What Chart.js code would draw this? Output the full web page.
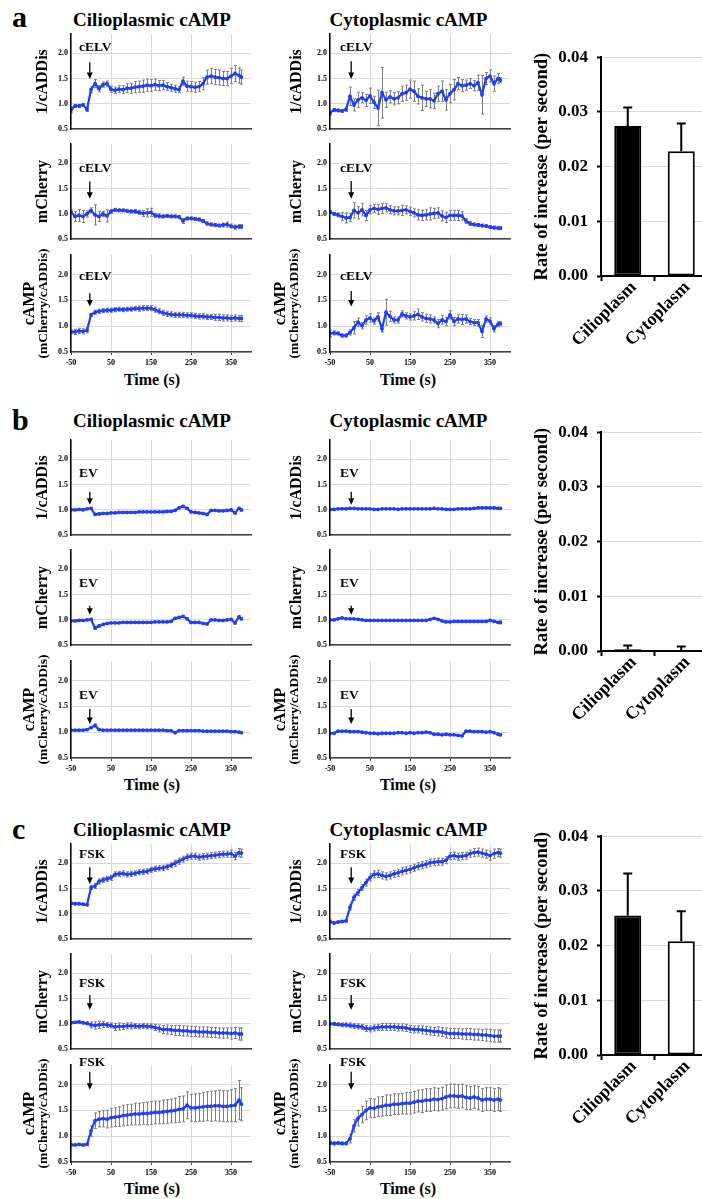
<!DOCTYPE html>
<html><head><meta charset="utf-8">
<script src="https://cdn.jsdelivr.net/npm/chart.js@4.4.1/dist/chart.umd.min.js"></script>
<style>
html,body{margin:0;padding:0;background:#fff;}
#fig{position:relative;width:702px;height:1199px;overflow:hidden;background:#fff;}
#fig canvas{position:absolute;}
.t{position:absolute;font-family:"Liberation Serif","Times New Roman",Times,serif;font-weight:bold;color:#000;line-height:1;white-space:nowrap;}
</style></head>
<body><div id="fig"></div>
<script>
// ---------- DATA ----------
const times = [-50,-40,-30,-20,-10,0,10,20,30,40,
  50,60,70,80,90,100,110,120,130,140,
  150,160,170,180,190,200,210,220,230,240,
  250,260,270,280,290,300,310,320,330,340,
  350,360,370,376];
const xTicks = [-50,50,150,250,350];
const yTicks = [0.5,1.0,1.5,2.0];
const rateTicks = [0,0.01,0.02,0.03,0.04];
const barCategories = ['Cilioplasm','Cytoplasm'];

// panel a (cELV) - cilioplasmic
const aCilCadd = [0.88,0.96,0.96,0.98,0.89,1.28,1.40,1.30,1.38,1.40,
  1.29,1.27,1.29,1.28,1.31,1.31,1.33,1.34,1.35,1.37,
  1.36,1.38,1.36,1.37,1.34,1.32,1.30,1.28,1.45,1.35,
  1.34,1.33,1.34,1.40,1.53,1.55,1.53,1.52,1.50,1.50,
  1.55,1.60,1.56,1.53];
const aCilCaddErr = [0.06,0.03,0.03,0.03,0.04,0.06,0.08,0.06,0.05,0.05,
  0.06,0.06,0.07,0.08,0.09,0.10,0.11,0.11,0.12,0.12,
  0.12,0.11,0.10,0.09,0.08,0.07,0.07,0.06,0.08,0.10,
  0.10,0.10,0.10,0.12,0.14,0.15,0.15,0.15,0.14,0.14,
  0.15,0.16,0.15,0.14];
const aCilMch = [1.04,0.95,0.97,0.95,1.00,1.07,0.98,0.95,1.00,0.96,
  1.05,1.08,1.07,1.07,1.06,1.05,1.05,1.03,1.01,1.02,
  1.03,0.97,0.96,0.95,0.96,0.95,0.95,0.94,0.86,0.91,
  0.91,0.90,0.89,0.86,0.81,0.79,0.78,0.77,0.78,0.79,
  0.76,0.74,0.75,0.75];
const aCilMchErr = [0.05,0.10,0.12,0.12,0.06,0.05,0.20,0.10,0.05,0.12,
  0.04,0.03,0.03,0.03,0.03,0.03,0.04,0.04,0.06,0.08,
  0.08,0.04,0.04,0.03,0.03,0.03,0.03,0.03,0.05,0.03,
  0.03,0.03,0.03,0.03,0.03,0.03,0.03,0.03,0.04,0.05,
  0.04,0.04,0.04,0.04];
const aCilCamp = [0.89,0.89,0.91,0.90,0.92,1.22,1.27,1.29,1.30,1.31,
  1.31,1.32,1.33,1.32,1.33,1.33,1.34,1.34,1.35,1.35,
  1.35,1.32,1.29,1.26,1.24,1.23,1.22,1.22,1.22,1.21,
  1.21,1.20,1.19,1.19,1.18,1.18,1.17,1.17,1.16,1.16,
  1.15,1.16,1.15,1.15];
const aCilCampErr = [0.04,0.05,0.05,0.05,0.05,0.03,0.04,0.04,0.04,0.04,
  0.04,0.04,0.04,0.04,0.04,0.04,0.04,0.05,0.05,0.05,
  0.05,0.05,0.05,0.05,0.05,0.05,0.05,0.05,0.05,0.05,
  0.05,0.05,0.05,0.05,0.05,0.05,0.06,0.06,0.06,0.06,
  0.06,0.06,0.06,0.06];
// panel a (cELV) - cytoplasmic
const aCytCadd = [0.82,0.88,0.87,0.86,0.89,1.15,0.98,1.08,1.12,1.07,
  1.16,1.03,0.92,1.22,1.08,1.14,1.10,1.12,1.20,1.22,
  1.29,1.25,1.15,1.12,1.10,1.10,1.06,1.20,1.25,1.08,
  1.20,1.28,1.40,1.36,1.37,1.40,1.36,1.42,1.18,1.50,
  1.55,1.40,1.50,1.47];
const aCytCaddErr = [0.04,0.03,0.03,0.03,0.04,0.18,0.12,0.15,0.10,0.12,
  0.15,0.12,0.35,0.50,0.15,0.12,0.12,0.12,0.15,0.15,
  0.18,0.20,0.15,0.25,0.15,0.18,0.15,0.15,0.20,0.20,
  0.18,0.20,0.12,0.12,0.10,0.10,0.10,0.15,0.38,0.12,
  0.12,0.15,0.10,0.05];
const aCytMch = [1.04,1.00,0.98,0.95,0.92,0.93,1.07,1.02,1.08,0.97,
  1.08,1.11,1.09,1.11,1.12,1.08,1.06,1.06,1.07,1.08,
  1.05,1.02,0.98,0.97,0.98,1.00,1.01,1.02,0.96,0.93,
  0.97,0.97,0.97,0.96,0.86,0.81,0.79,0.78,0.77,0.76,
  0.74,0.73,0.72,0.72];
const aCytMchErr = [0.03,0.03,0.04,0.08,0.10,0.08,0.15,0.12,0.12,0.10,
  0.08,0.08,0.10,0.10,0.08,0.08,0.08,0.08,0.10,0.08,
  0.08,0.08,0.10,0.10,0.10,0.12,0.10,0.10,0.10,0.10,
  0.10,0.10,0.10,0.08,0.05,0.04,0.03,0.03,0.03,0.03,
  0.03,0.03,0.03,0.03];
const aCytCamp = [0.86,0.87,0.86,0.82,0.82,0.88,0.97,1.08,1.01,1.12,
  1.16,1.10,1.18,0.95,1.27,1.19,1.12,1.12,1.24,1.20,
  1.18,1.20,1.23,1.18,1.15,1.14,1.12,1.05,1.12,1.09,
  1.22,1.09,1.14,1.13,1.14,1.09,1.07,1.07,0.90,1.14,
  1.10,0.95,1.04,1.05];
const aCytCampErr = [0.06,0.04,0.03,0.03,0.03,0.05,0.12,0.08,0.06,0.08,
  0.08,0.06,0.08,0.06,0.25,0.10,0.06,0.06,0.06,0.06,
  0.06,0.08,0.10,0.08,0.08,0.08,0.06,0.08,0.08,0.08,
  0.08,0.08,0.08,0.10,0.08,0.06,0.06,0.06,0.12,0.06,
  0.06,0.06,0.05,0.04];

// panel b (EV) - cilioplasmic
const bCilCadd = [1.00,1.00,1.01,1.00,1.02,1.03,0.91,0.92,0.93,0.93,
  0.94,0.94,0.95,0.95,0.95,0.95,0.95,0.96,0.96,0.96,
  0.96,0.96,0.96,0.96,0.97,0.97,0.99,1.04,1.07,1.03,
  0.96,0.95,0.94,0.93,0.91,0.99,0.99,0.98,0.98,0.99,
  1.00,0.94,1.03,1.00];
const bCilCaddErr = [0.01,0.01,0.01,0.01,0.01,0.02,0.02,0.02,0.01,0.01,
  0.01,0.01,0.01,0.01,0.01,0.01,0.01,0.01,0.01,0.01,
  0.01,0.01,0.01,0.01,0.01,0.01,0.02,0.02,0.02,0.02,
  0.01,0.01,0.01,0.01,0.02,0.01,0.01,0.01,0.01,0.01,
  0.02,0.02,0.02,0.02];
const bCilMch = [0.98,0.98,0.99,0.99,1.00,1.01,0.84,0.88,0.91,0.93,
  0.94,0.94,0.94,0.95,0.95,0.95,0.95,0.95,0.95,0.95,
  0.95,0.96,0.96,0.96,0.96,0.97,1.03,1.05,1.07,1.02,
  0.95,0.95,0.95,0.93,0.92,1.00,1.00,0.99,0.99,1.00,
  1.01,0.94,1.06,1.02];
const bCilMchErr = [0.01,0.01,0.01,0.01,0.01,0.02,0.03,0.02,0.02,0.01,
  0.01,0.01,0.01,0.01,0.01,0.01,0.01,0.01,0.01,0.01,
  0.01,0.01,0.01,0.01,0.01,0.01,0.02,0.02,0.02,0.02,
  0.01,0.01,0.01,0.01,0.02,0.01,0.01,0.01,0.01,0.01,
  0.02,0.02,0.02,0.02];
const bCilCamp = [1.04,1.04,1.04,1.04,1.05,1.09,1.13,1.05,1.04,1.04,
  1.04,1.04,1.04,1.04,1.04,1.04,1.04,1.04,1.04,1.04,
  1.04,1.04,1.04,1.04,1.03,1.03,0.99,1.03,1.03,1.03,
  1.03,1.03,1.03,1.02,1.02,1.02,1.02,1.02,1.02,1.02,
  1.01,1.01,1.00,0.99];
const bCilCampErr = [0.01,0.01,0.01,0.01,0.01,0.02,0.03,0.01,0.01,0.01,
  0.01,0.01,0.01,0.01,0.01,0.01,0.01,0.01,0.01,0.01,
  0.01,0.01,0.01,0.01,0.01,0.01,0.02,0.01,0.01,0.01,
  0.01,0.01,0.01,0.01,0.01,0.01,0.01,0.01,0.01,0.01,
  0.01,0.01,0.01,0.01];
// panel b (EV) - cytoplasmic
const bCytCadd = [1.01,1.01,1.02,1.02,1.02,1.03,1.03,1.02,1.02,1.02,
  1.02,1.01,1.01,1.02,1.02,1.02,1.02,1.01,1.02,1.02,
  1.02,1.02,1.02,1.02,1.02,1.02,1.03,1.02,1.02,1.01,
  1.01,1.01,1.02,1.02,1.02,1.02,1.03,1.04,1.04,1.04,
  1.04,1.04,1.03,1.03];
const bCytCaddErr = [0.01,0.01,0.01,0.01,0.01,0.01,0.01,0.01,0.01,0.01,
  0.01,0.01,0.01,0.01,0.01,0.01,0.01,0.01,0.01,0.01,
  0.01,0.01,0.01,0.01,0.01,0.01,0.01,0.01,0.01,0.01,
  0.01,0.01,0.01,0.01,0.01,0.01,0.02,0.02,0.02,0.02,
  0.02,0.02,0.02,0.02];
const bCytMch = [1.00,1.00,1.02,1.04,1.02,1.02,1.02,1.01,1.00,0.99,
  0.99,0.99,0.99,0.99,0.99,0.99,0.99,0.99,0.99,0.99,
  0.99,0.99,0.99,0.99,0.99,1.01,1.03,1.01,0.98,0.96,
  0.96,0.97,0.97,0.97,0.97,0.97,0.97,0.97,0.97,0.97,
  0.99,0.97,0.95,0.95];
const bCytMchErr = [0.01,0.01,0.01,0.01,0.01,0.01,0.01,0.01,0.01,0.01,
  0.01,0.01,0.01,0.01,0.01,0.01,0.01,0.01,0.01,0.01,
  0.01,0.01,0.01,0.01,0.01,0.01,0.01,0.01,0.01,0.01,
  0.01,0.01,0.01,0.01,0.01,0.01,0.01,0.01,0.01,0.01,
  0.02,0.02,0.02,0.03];
const bCytCamp = [0.98,0.98,1.02,1.02,1.02,1.01,1.01,1.01,1.00,0.99,
  0.98,0.98,0.97,0.98,0.98,0.98,0.98,0.99,0.99,0.98,
  0.99,0.98,0.99,0.99,1.00,0.99,0.96,0.96,0.95,0.96,
  0.95,0.95,0.94,0.93,1.02,1.02,1.01,1.01,1.01,1.00,
  1.01,0.99,0.96,0.95];
const bCytCampErr = [0.01,0.01,0.01,0.01,0.01,0.01,0.01,0.01,0.01,0.01,
  0.01,0.01,0.01,0.01,0.01,0.01,0.01,0.01,0.01,0.01,
  0.01,0.01,0.01,0.01,0.01,0.01,0.01,0.01,0.01,0.01,
  0.01,0.01,0.01,0.01,0.01,0.01,0.01,0.01,0.01,0.01,
  0.01,0.01,0.02,0.02];

// panel c (FSK) - cilioplasmic
const cCilCadd = [1.21,1.20,1.20,1.19,1.18,1.52,1.55,1.64,1.67,1.69,
  1.71,1.78,1.79,1.80,1.78,1.79,1.80,1.82,1.83,1.84,
  1.87,1.89,1.90,1.91,1.93,1.96,2.00,2.04,2.08,2.12,
  2.14,2.14,2.12,2.13,2.14,2.15,2.16,2.17,2.18,2.18,
  2.19,2.14,2.21,2.20];
const cCilCaddErr = [0.02,0.02,0.02,0.02,0.02,0.04,0.05,0.05,0.05,0.05,
  0.05,0.05,0.05,0.05,0.05,0.05,0.05,0.05,0.05,0.05,
  0.05,0.05,0.05,0.05,0.05,0.05,0.06,0.06,0.06,0.06,
  0.06,0.06,0.06,0.06,0.06,0.06,0.06,0.06,0.06,0.06,
  0.07,0.07,0.08,0.08];
const cCilMch = [1.02,1.03,1.04,1.02,1.01,0.98,0.97,0.98,0.99,0.98,
  0.97,0.94,0.95,0.95,0.96,0.96,0.96,0.95,0.96,0.95,
  0.95,0.93,0.91,0.89,0.89,0.88,0.87,0.87,0.86,0.86,
  0.85,0.85,0.84,0.84,0.84,0.83,0.83,0.82,0.82,0.82,
  0.81,0.82,0.80,0.80];
const cCilMchErr = [0.02,0.02,0.02,0.02,0.03,0.06,0.07,0.07,0.06,0.05,
  0.05,0.07,0.07,0.06,0.06,0.06,0.05,0.05,0.05,0.05,
  0.05,0.06,0.07,0.08,0.09,0.09,0.10,0.10,0.10,0.10,
  0.10,0.10,0.10,0.10,0.10,0.10,0.10,0.10,0.10,0.10,
  0.11,0.11,0.12,0.12];
const cCilCamp = [0.83,0.83,0.84,0.83,0.84,1.10,1.30,1.33,1.34,1.33,
  1.36,1.37,1.38,1.40,1.41,1.42,1.43,1.43,1.44,1.44,
  1.45,1.46,1.46,1.47,1.48,1.49,1.50,1.52,1.53,1.60,
  1.55,1.55,1.56,1.57,1.58,1.58,1.59,1.59,1.58,1.58,
  1.59,1.60,1.70,1.62];
const cCilCampErr = [0.02,0.02,0.02,0.02,0.02,0.10,0.15,0.15,0.16,0.17,
  0.18,0.18,0.19,0.20,0.20,0.20,0.21,0.21,0.21,0.22,
  0.22,0.22,0.22,0.23,0.23,0.23,0.24,0.25,0.25,0.26,
  0.26,0.27,0.27,0.28,0.28,0.29,0.29,0.30,0.30,0.30,
  0.31,0.32,0.38,0.32];
// panel c (FSK) - cytoplasmic
const cCytCadd = [0.85,0.82,0.84,0.85,0.86,1.13,1.33,1.42,1.52,1.62,
  1.72,1.78,1.79,1.76,1.74,1.76,1.79,1.81,1.84,1.86,
  1.88,1.91,1.94,1.96,1.98,2.01,2.02,2.03,2.03,2.06,
  2.14,2.15,2.13,2.14,2.15,2.19,2.21,2.22,2.20,2.18,
  2.15,2.19,2.21,2.20];
const cCytCaddErr = [0.03,0.02,0.02,0.02,0.02,0.05,0.06,0.06,0.06,0.07,
  0.07,0.07,0.07,0.07,0.07,0.07,0.07,0.07,0.07,0.07,
  0.07,0.07,0.07,0.07,0.07,0.07,0.07,0.07,0.07,0.07,
  0.07,0.07,0.07,0.07,0.07,0.07,0.08,0.08,0.08,0.08,
  0.09,0.09,0.08,0.08];
const cCytMch = [1.00,1.00,0.99,0.98,0.98,0.97,0.96,0.95,0.94,0.91,
  0.90,0.92,0.93,0.94,0.94,0.94,0.94,0.93,0.93,0.92,
  0.90,0.89,0.89,0.88,0.87,0.86,0.85,0.85,0.84,0.82,
  0.81,0.81,0.81,0.80,0.80,0.80,0.79,0.79,0.78,0.78,
  0.77,0.76,0.76,0.76];
const cCytMchErr = [0.02,0.03,0.03,0.04,0.04,0.05,0.05,0.05,0.05,0.06,
  0.06,0.06,0.06,0.07,0.07,0.07,0.07,0.07,0.07,0.07,
  0.07,0.07,0.07,0.08,0.08,0.08,0.08,0.09,0.09,0.10,
  0.10,0.10,0.10,0.10,0.11,0.11,0.11,0.11,0.11,0.12,
  0.12,0.12,0.12,0.12];
const cCytCamp = [0.87,0.86,0.87,0.86,0.86,0.95,1.20,1.35,1.42,1.50,
  1.55,1.54,1.57,1.58,1.60,1.60,1.62,1.62,1.63,1.64,
  1.64,1.66,1.68,1.68,1.70,1.70,1.72,1.71,1.73,1.76,
  1.78,1.78,1.77,1.78,1.75,1.74,1.76,1.74,1.70,1.72,
  1.72,1.70,1.72,1.70];
const cCytCampErr = [0.03,0.03,0.03,0.03,0.03,0.08,0.12,0.15,0.16,0.18,
  0.18,0.18,0.19,0.19,0.20,0.20,0.20,0.20,0.20,0.21,
  0.21,0.21,0.21,0.22,0.22,0.22,0.22,0.22,0.22,0.23,
  0.23,0.23,0.23,0.23,0.23,0.22,0.22,0.22,0.22,0.22,
  0.22,0.22,0.22,0.22];

// rate of increase (bar charts)
const rateA = [0.0274, 0.0228];
const rateAErr = [0.0034, 0.0051];
const rateB = [0.0003, 0.0001];
const rateBErr = [0.0007, 0.0007];
const rateC = [0.0255, 0.0208];
const rateCErr = [0.0077, 0.0055];

// ---------- LAYOUT ----------
const SERIF = '"Liberation Serif", "Times New Roman", Times, serif';
const BLUE = '#1f3dff';
const PANEL_TOP = [0, 406, 810];
const ROW_TOP = [34, 144, 255];
const PLOT_H = 97;
const PAD_TOP = 14;
const COLS = [
  {left: 20, width: 241, yw: 51, titlePad: 13.4, camp: [10, 23.3], arrowT: -3, labelT: -30},
  {left: 270, width: 250, yw: 60, titlePad: 17.4, camp: [11, 24.3], arrowT: 3, labelT: -25}
];
const ROW_TITLES = ['1/cADDis', 'mCherry', null];
// stimulus annotation: [label value, arrow top value, arrow tip value]
const charts = [
  {panel:0,row:0,col:0,v:aCilCadd,e:aCilCaddErr,stim:'cELV',ann:[2.12,1.82,1.49]},
  {panel:0,row:1,col:0,v:aCilMch,e:aCilMchErr,stim:'cELV',ann:[1.90,1.64,1.30]},
  {panel:0,row:2,col:0,v:aCilCamp,e:aCilCampErr,stim:'cELV',ann:[1.96,1.64,1.38]},
  {panel:0,row:0,col:1,v:aCytCadd,e:aCytCaddErr,stim:'cELV',ann:[2.12,1.84,1.49]},
  {panel:0,row:1,col:1,v:aCytMch,e:aCytMchErr,stim:'cELV',ann:[1.90,1.65,1.30]},
  {panel:0,row:2,col:1,v:aCytCamp,e:aCytCampErr,stim:'cELV',ann:[1.96,1.68,1.38]},
  {panel:1,row:0,col:0,v:bCilCadd,e:bCilCaddErr,stim:'EV',ann:[1.71,1.36,1.10]},
  {panel:1,row:1,col:0,v:bCilMch,e:bCilMchErr,stim:'EV',ann:[1.71,1.28,1.10]},
  {panel:1,row:2,col:0,v:bCilCamp,e:bCilCampErr,stim:'EV',ann:[1.71,1.45,1.16]},
  {panel:1,row:0,col:1,v:bCytCadd,e:bCytCaddErr,stim:'EV',ann:[1.71,1.36,1.10]},
  {panel:1,row:1,col:1,v:bCytMch,e:bCytMchErr,stim:'EV',ann:[1.71,1.28,1.10]},
  {panel:1,row:2,col:1,v:bCytCamp,e:bCytCampErr,stim:'EV',ann:[1.71,1.45,1.16]},
  {panel:2,row:0,col:0,v:cCilCadd,e:cCilCaddErr,stim:'FSK',ann:[2.18,1.92,1.59]},
  {panel:2,row:1,col:0,v:cCilMch,e:cCilMchErr,stim:'FSK',ann:[1.79,1.57,1.28]},
  {panel:2,row:2,col:0,v:cCilCamp,e:cCilCampErr,stim:'FSK',ann:[2.43,2.25,1.90]},
  {panel:2,row:0,col:1,v:cCytCadd,e:cCytCaddErr,stim:'FSK',ann:[2.18,1.92,1.59]},
  {panel:2,row:1,col:1,v:cCytMch,e:cCytMchErr,stim:'FSK',ann:[1.79,1.57,1.28]},
  {panel:2,row:2,col:1,v:cCytCamp,e:cCytCampErr,stim:'FSK',ann:[2.43,2.25,1.90]}
];
const bars = [
  {top: 50, v: rateA, e: rateAErr},
  {top: 425, v: rateB, e: rateBErr},
  {top: 829, v: rateC, e: rateCErr}
];

const fig = document.getElementById('fig');
function addText(txt, left, top, size, width) {
  const d = document.createElement('div');
  d.className = 't'; d.textContent = txt;
  d.style.left = left + 'px'; d.style.top = top + 'px'; d.style.fontSize = size + 'px';
  if (width) { d.style.width = width + 'px'; d.style.textAlign = 'center'; }
  fig.appendChild(d);
}
function makeCanvas(left, top, w, h) {
  const cv = document.createElement('canvas');
  cv.width = w; cv.height = h;
  cv.style.left = left + 'px'; cv.style.top = top + 'px';
  cv.style.width = w + 'px'; cv.style.height = h + 'px';
  fig.appendChild(cv);
  return cv;
}

function makeLine(spec) {
  const col = COLS[spec.col];
  const bottomRow = spec.row === 2;
  const xH = bottomRow ? 16 : 6;
  const H = PAD_TOP + PLOT_H + xH;
  const cv = makeCanvas(col.left, PANEL_TOP[spec.panel] + ROW_TOP[spec.row] - PAD_TOP, col.width, H);
  const title = ROW_TITLES[spec.row];
  const decor = {
    id: 'decor',
    beforeDatasetsDraw(chart) {
      const {ctx, scales: {x, y}} = chart;
      ctx.save();
      ctx.strokeStyle = '#7f7f7f'; ctx.lineWidth = 1;
      ctx.beginPath();
      spec.v.forEach((val, i) => {
        const err = spec.e[i];
        const px = Math.round(x.getPixelForValue(times[i])) + 0.5;
        const y1 = y.getPixelForValue(val + err), y2 = y.getPixelForValue(val - err);
        ctx.moveTo(px, y1); ctx.lineTo(px, y2);
        ctx.moveTo(px - 1.5, y1); ctx.lineTo(px + 1.5, y1);
        ctx.moveTo(px - 1.5, y2); ctx.lineTo(px + 1.5, y2);
      });
      ctx.stroke();
      ctx.restore();
    },
    afterDraw(chart) {
      const {ctx, scales: {x, y}} = chart;
      ctx.save();
      const ax = x.getPixelForValue(col.arrowT);
      const yTop = y.getPixelForValue(spec.ann[1]);
      const yTip = y.getPixelForValue(spec.ann[2]);
      ctx.strokeStyle = '#000'; ctx.fillStyle = '#000'; ctx.lineWidth = 1.3;
      ctx.beginPath(); ctx.moveTo(ax, yTop); ctx.lineTo(ax, yTip - 5); ctx.stroke();
      ctx.beginPath(); ctx.moveTo(ax - 3, yTip - 6.5); ctx.lineTo(ax + 3, yTip - 6.5); ctx.lineTo(ax, yTip); ctx.closePath(); ctx.fill();
      ctx.font = 'bold 13.5px ' + SERIF;
      ctx.textAlign = 'left'; ctx.textBaseline = 'middle';
      ctx.fillText(spec.stim, x.getPixelForValue(col.labelT), y.getPixelForValue(spec.ann[0]));
      if (bottomRow) {
        const cy = (chart.chartArea.top + chart.chartArea.bottom) / 2;
        ctx.textAlign = 'center';
        ctx.save(); ctx.translate(col.camp[0], cy); ctx.rotate(-Math.PI / 2);
        ctx.font = 'bold 16px ' + SERIF; ctx.fillText('cAMP', 0, 0); ctx.restore();
        ctx.save(); ctx.translate(col.camp[1], cy); ctx.rotate(-Math.PI / 2);
        ctx.font = 'bold 13.5px ' + SERIF; ctx.fillText('(mCherry/cADDis)', 0, 0); ctx.restore();
      }
      ctx.restore();
    }
  };
  new Chart(cv, {
    type: 'line',
    data: { datasets: [{
      data: times.map((t, i) => ({x: t, y: spec.v[i]})),
      borderColor: BLUE, backgroundColor: BLUE, borderWidth: 2.2,
      pointRadius: 1.9, pointBorderWidth: 0, pointBackgroundColor: BLUE, tension: 0
    }]},
    options: {
      responsive: false, animation: false, devicePixelRatio: 1,
      layout: { padding: { top: PAD_TOP, right: 10, left: 0, bottom: 0 } },
      plugins: { legend: {display: false}, tooltip: {enabled: false} },
      scales: {
        x: {
          type: 'linear', min: -50, max: 400,
          afterBuildTicks: s => { s.ticks = xTicks.map(v => ({value: v})); },
          afterFit: s => { s.height = xH; },
          grid: { color: '#d9d9d9', lineWidth: 1, drawTicks: bottomRow, tickLength: 3, tickColor: '#404040' },
          border: { color: '#404040', width: 1.5, z: 1 },
          ticks: { display: bottomRow, font: {family: SERIF, size: 8, weight: 'bold'}, color: '#000', padding: 3, maxRotation: 0, autoSkip: false }
        },
        y: {
          min: 0.5, max: 2.38,
          afterBuildTicks: s => { s.ticks = yTicks.map(v => ({value: v})); },
          afterFit: s => { s.width = col.yw; },
          grid: { color: '#d9d9d9', lineWidth: 1, drawTicks: false },
          border: { color: '#000', width: 1.5, z: 1 },
          ticks: { font: {family: SERIF, size: 8, weight: 'bold'}, color: '#000', padding: 3, callback: v => Number(v).toFixed(1) },
          title: { display: !!title, text: title || '', color: '#000', font: {family: SERIF, size: 16, weight: 'bold', lineHeight: 1.2}, padding: {top: col.titlePad, bottom: 0} }
        }
      }
    },
    plugins: [decor]
  });
}

function makeBar(spec) {
  const PT = 12, PH = 226, XH = 100;
  const cv = makeCanvas(500, spec.top - PT, 210, PT + PH + XH);
  const errs = {
    id: 'errs',
    afterDatasetsDraw(chart) {
      const {ctx} = chart; const ys = chart.scales.y;
      const meta = chart.getDatasetMeta(0);
      ctx.save(); ctx.strokeStyle = '#000'; ctx.lineWidth = 2;
      meta.data.forEach((bar, i) => {
        const x = bar.x;
        const y0 = ys.getPixelForValue(spec.v[i]);
        const y1 = ys.getPixelForValue(spec.v[i] + spec.e[i]);
        ctx.beginPath(); ctx.moveTo(x, y0); ctx.lineTo(x, y1);
        ctx.moveTo(x - 4.5, y1); ctx.lineTo(x + 4.5, y1); ctx.stroke();
      });
      ctx.restore();
    }
  };
  new Chart(cv, {
    type: 'bar',
    data: { labels: barCategories, datasets: [{
      data: spec.v, backgroundColor: ['#000000', '#ffffff'], borderColor: '#000', borderWidth: 2,
      borderSkipped: false, barPercentage: 0.505, categoryPercentage: 1
    }]},
    options: {
      responsive: false, animation: false, devicePixelRatio: 1,
      layout: { padding: { top: PT, right: 2, left: 0, bottom: 0 } },
      plugins: { legend: {display: false}, tooltip: {enabled: false} },
      scales: {
        x: {
          afterFit: s => { s.height = XH; },
          grid: { display: true, drawOnChartArea: false, drawTicks: true, tickLength: 5, tickColor: '#000', tickWidth: 2, offset: true },
          border: { color: '#000', width: 2, z: 1 },
          ticks: { font: {family: SERIF, size: 18, weight: 'bold'}, color: '#000', minRotation: 45, maxRotation: 45, autoSkip: false, padding: -4, labelOffset: 6 }
        },
        y: {
          min: 0, max: 0.04,
          afterBuildTicks: s => { s.ticks = rateTicks.map(v => ({value: v})); },
          afterFit: s => { s.width = 101; },
          grid: { color: '#d9d9d9', lineWidth: 1, tickColor: '#000', tickLength: 4, tickWidth: 2 },
          border: { color: '#000', width: 2, z: 1 },
          ticks: { font: {family: SERIF, size: 17, weight: 'bold'}, color: '#000', padding: 9, callback: v => Number(v).toFixed(2) },
          title: { display: true, text: 'Rate of increase (per second)', color: '#000', font: {family: SERIF, size: 18.5, weight: 'bold', lineHeight: 1.2}, padding: {top: 31.6, bottom: 0} }
        }
      }
    },
    plugins: [errs]
  });
}

// ---------- TEXT ----------
const letters = ['a', 'b', 'c'];
const letterTops = [2, 405, 814];
const titleTops = [10, 411, 820];
const timeTops = [371.6, 776.6, 1180.6];
letters.forEach((l, i) => {
  addText(l, 12, letterTops[i], 30);
  addText('Cilioplasmic cAMP', 2, titleTops[i], 19, 300);
  addText('Cytoplasmic cAMP', 258.5, titleTops[i], 19, 300);
  addText('Time (s)', 102, timeTops[i], 16, 100);
  addText('Time (s)', 358, timeTops[i], 16, 100);
});

charts.forEach(makeLine);
bars.forEach(makeBar);
</script>
</body></html>
